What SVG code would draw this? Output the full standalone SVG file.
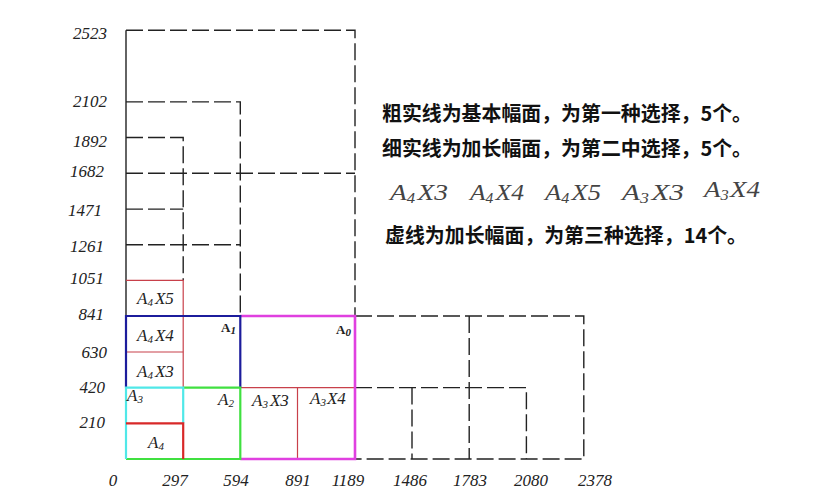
<svg xmlns="http://www.w3.org/2000/svg" width="830" height="504" viewBox="0 0 830 504">
<style>
.dash{fill:none;stroke:#222;stroke-width:1.4;stroke-dasharray:17 5}
.axis{fill:none;stroke:#222;stroke-width:1.4}
.thin{fill:none;stroke:#c8404a;stroke-width:1.2}
.blue{fill:none;stroke:#1c1c9c;stroke-width:2.2}
.mag{fill:none;stroke:#e040e0;stroke-width:2.6}
.green{fill:none;stroke:#40e040;stroke-width:2.2}
.cyan{fill:none;stroke:#50e8e8;stroke-width:2.2}
.red{fill:none;stroke:#d82828;stroke-width:2.2}
.tick{font-family:"Liberation Serif",serif;font-style:italic;font-size:17px;fill:#222}
.yl{text-anchor:end}
.xl{text-anchor:middle}
.lab{font-family:"Liberation Serif",serif;font-style:italic;font-size:17px;fill:#222}
.sub{font-size:11px}
.bold{font-family:"Liberation Serif",serif;font-weight:bold;font-size:13px;fill:#222}
.cn{font-family:"Noto Sans CJK SC",sans-serif;font-weight:bold;font-size:20px;fill:#111}
.big{font-family:"Liberation Serif",serif;font-style:italic;font-size:23px;fill:#444}
.bsub{font-size:14px}
</style>
<rect width="830" height="504" fill="#fff"/>
<g id="connectors">
<path class="axis" d="M126 30.3V459"/>
<path class="dash" d="M126 30.3H355V316"/>
<path class="dash" d="M126 101.9H240.3V316"/>
<path class="dash" d="M126 137.5H183.2V280.4"/>
<path class="dash" d="M126 173.2H355"/>
<path class="dash" d="M126 209.1H183.2"/>
<path class="dash" d="M126 244.8H240.3"/>
<path class="dash" d="M355 316H583.8V459H355"/>
<path class="dash" d="M469.2 316V459"/>
<path class="dash" d="M355 387.6H526.4V459"/>
<path class="dash" d="M412 387.6V459"/>
</g>
<g id="thin-lines">
<path class="thin" d="M126 280.4H183.2V387.6"/>
<path class="thin" d="M126 352H183.2"/>
<path class="thin" d="M240.3 387.6H355"/>
<path class="thin" d="M297.5 387.6V459"/>
</g>
<g id="A0"><path class="mag" d="M240.3 316H355V459H240.3"/><text class="bold" x="336" y="334">A<tspan class="sub" font-style="italic" dy="2">0</tspan></text></g>
<g id="A1"><path class="blue" d="M126 387.6V316H240.3V387.6"/><text class="bold" x="221" y="332">A<tspan class="sub" font-style="italic" dy="2">1</tspan></text></g>
<g id="A2"><path class="green" d="M183.2 387.6H240.3V459H126"/><text class="lab" x="218" y="405">A<tspan class="sub" dy="2">2</tspan></text></g>
<g id="A3"><path class="cyan" d="M126 459V387.6H183.2V423.3"/><text class="lab" x="127" y="401">A<tspan class="sub" dy="2">3</tspan></text></g>
<g id="A4"><path class="red" d="M126 423.3H183.2V459"/><text class="lab" x="148" y="448">A<tspan class="sub" dy="2">4</tspan></text></g>
<g id="A4X3"><text class="lab" x="137" y="377">A<tspan class="sub" dy="2">4</tspan><tspan dx="2" dy="-2">X3</tspan></text></g>
<g id="A4X4"><text class="lab" x="137" y="341">A<tspan class="sub" dy="2">4</tspan><tspan dx="2" dy="-2">X4</tspan></text></g>
<g id="A4X5"><text class="lab" x="137" y="304">A<tspan class="sub" dy="2">4</tspan><tspan dx="2" dy="-2">X5</tspan></text></g>
<g id="A3X3"><text class="lab" x="252" y="406">A<tspan class="sub" dy="2">3</tspan><tspan dx="2" dy="-2">X3</tspan></text></g>
<g id="A3X4"><text class="lab" x="310" y="404">A<tspan class="sub" dy="2">3</tspan><tspan dx="1" dy="-2">X4</tspan></text></g>
<g id="y-ticks">
<text class="tick yl" x="107" y="39">2523</text>
<text class="tick yl" x="107" y="107">2102</text>
<text class="tick yl" x="107" y="147">1892</text>
<text class="tick yl" x="104" y="177">1682</text>
<text class="tick yl" x="102" y="216">1471</text>
<text class="tick yl" x="104" y="252">1261</text>
<text class="tick yl" x="104" y="284">1051</text>
<text class="tick yl" x="104" y="320">841</text>
<text class="tick yl" x="107" y="358">630</text>
<text class="tick yl" x="105" y="393">420</text>
<text class="tick yl" x="105" y="428">210</text>
</g>
<g id="x-ticks">
<text class="tick xl" x="113" y="486">0</text>
<text class="tick xl" x="175" y="486">297</text>
<text class="tick xl" x="236" y="486">594</text>
<text class="tick xl" x="298" y="486">891</text>
<text class="tick xl" x="348" y="486">1189</text>
<text class="tick xl" x="410" y="486">1486</text>
<text class="tick xl" x="470" y="486">1783</text>
<text class="tick xl" x="531" y="486">2080</text>
<text class="tick xl" x="595" y="486">2378</text>
</g>
<g id="legend">
<text class="cn" x="382" y="121" textLength="370" lengthAdjust="spacingAndGlyphs">粗实线为基本幅面，为第一种选择，5个。</text>
<text class="cn" x="382" y="156" textLength="370" lengthAdjust="spacingAndGlyphs">细实线为加长幅面，为第二中选择，5个。</text>
<text class="big" x="390" y="200" textLength="58" lengthAdjust="spacingAndGlyphs">A<tspan class="bsub" dy="3">4</tspan><tspan dx="2" dy="-3">X3</tspan></text>
<text class="big" x="470" y="200" textLength="54" lengthAdjust="spacingAndGlyphs">A<tspan class="bsub" dy="3">4</tspan><tspan dx="2" dy="-3">X4</tspan></text>
<text class="big" x="545" y="200" textLength="56" lengthAdjust="spacingAndGlyphs">A<tspan class="bsub" dy="3">4</tspan><tspan dx="2" dy="-3">X5</tspan></text>
<text class="big" x="622" y="200" textLength="62" lengthAdjust="spacingAndGlyphs">A<tspan class="bsub" dy="3">3</tspan><tspan dx="2" dy="-3">X3</tspan></text>
<text class="big" x="704" y="197" textLength="56" lengthAdjust="spacingAndGlyphs">A<tspan class="bsub" dy="3">3</tspan><tspan dx="1" dy="-3">X4</tspan></text>
<text class="cn" x="385" y="243" textLength="362" lengthAdjust="spacingAndGlyphs">虚线为加长幅面，为第三种选择，14个。</text>
</g>
</svg>
